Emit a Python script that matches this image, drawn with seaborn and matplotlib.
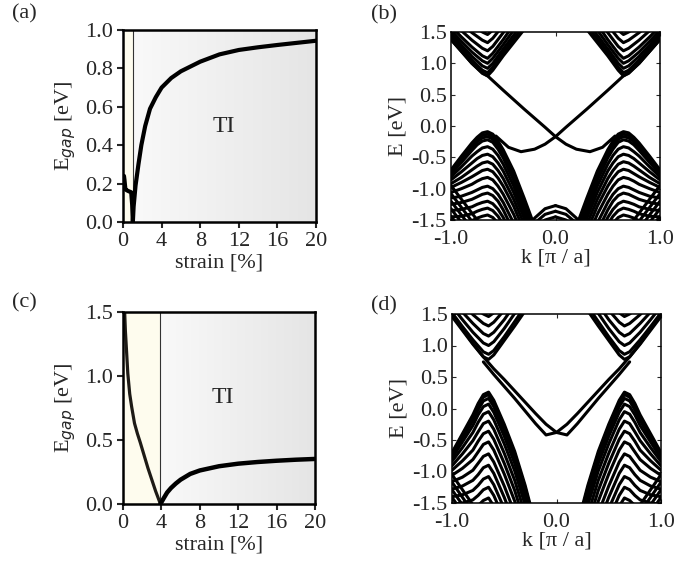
import numpy as np
import pandas as pd
import matplotlib
matplotlib.use("Agg")
import matplotlib.pyplot as plt
from matplotlib.colors import LinearSegmentedColormap
from matplotlib.ticker import FormatStrFormatter
import seaborn as sns

# ---------------- (a) / (c): gap vs strain ----------------
strain_a = [0.0, 0.1, 0.15, 0.25, 0.4, 0.6, 0.85, 0.95, 1.02, 1.1, 1.3, 1.6, 1.9, 2.3, 2.8, 3.4,
            4.0, 5.0, 6.0, 7.0, 8.0, 10.0, 12.0, 14.0, 16.0, 18.0, 20.0]
gap_a = [0.20, 0.24, 0.22, 0.17, 0.165, 0.16, 0.155, 0.09, 0.0, 0.08, 0.19, 0.30, 0.40, 0.50, 0.59, 0.65,
         0.70, 0.75, 0.785, 0.81, 0.835, 0.873, 0.896, 0.91, 0.922, 0.933, 0.944]
boundary_a = 1.0

strain_c_left = [0.12, 0.25, 0.35, 0.5, 0.7, 0.9, 1.2, 1.5, 1.8, 2.2, 2.6, 3.0, 3.4, 3.7, 3.9]
gap_c_left = [1.6, 1.35, 1.22, 1.02, 0.86, 0.76, 0.63, 0.55, 0.48, 0.38, 0.28, 0.19, 0.10, 0.04, 0.0]
strain_c_right = [3.9, 4.2, 4.6, 5.0, 5.5, 6.0, 7.0, 8.0, 10.0, 12.0, 14.0, 16.0, 18.0, 20.0]
gap_c_right = [0.0, 0.04, 0.09, 0.125, 0.16, 0.19, 0.235, 0.262, 0.295, 0.315, 0.328, 0.338, 0.346, 0.352]
boundary_c = 3.9

# ---------------- (b) / (d): ribbon bands (k >= 0 half, mirrored in k) ----------------
k_val = [0.0, 0.1, 0.2, 0.3, 0.4, 0.5, 0.55, 0.6, 0.65, 0.7, 0.75, 0.8, 0.9, 1.0]
k_cond = [0.3, 0.4, 0.5, 0.6, 0.65, 0.7, 0.8, 0.9, 1.0]
k_fold = [0.7, 0.8, 0.9, 1.0]
k_bump = [0.0, 0.1, 0.2, 0.3]

val_b = [
    [-3.0, -2.3, -1.6, -1.15, -0.72, -0.38, -0.24, -0.13, -0.09, -0.11, -0.18, -0.27, -0.48, -0.70],
    [-3.0, -2.35, -1.65, -1.2, -0.77, -0.42, -0.28, -0.17, -0.13, -0.15, -0.21, -0.30, -0.51, -0.72],
    [-3.0, -2.4, -1.7, -1.25, -0.82, -0.46, -0.32, -0.21, -0.17, -0.19, -0.25, -0.34, -0.54, -0.74],
    [-3.1, -2.45, -1.75, -1.3, -0.87, -0.51, -0.37, -0.26, -0.22, -0.24, -0.30, -0.39, -0.58, -0.77],
    [-3.1, -2.5, -1.82, -1.38, -0.96, -0.61, -0.47, -0.37, -0.33, -0.35, -0.41, -0.48, -0.65, -0.81],
    [-3.2, -2.6, -1.9, -1.47, -1.06, -0.72, -0.59, -0.49, -0.45, -0.47, -0.52, -0.59, -0.73, -0.86],
    [-3.2, -2.7, -2.0, -1.57, -1.17, -0.84, -0.71, -0.61, -0.57, -0.59, -0.64, -0.70, -0.82, -0.92],
    [-3.3, -2.8, -2.1, -1.68, -1.28, -0.96, -0.83, -0.73, -0.69, -0.71, -0.76, -0.81, -0.90, -0.98],
    [-3.4, -2.9, -2.2, -1.8, -1.41, -1.09, -0.96, -0.86, -0.82, -0.84, -0.88, -0.93, -1.0, -1.06],
    [-3.5, -3.0, -2.4, -1.95, -1.55, -1.22, -1.09, -1.0, -0.96, -0.98, -1.02, -1.06, -1.12, -1.15],
    [-3.5, -3.1, -2.5, -2.1, -1.68, -1.34, -1.2, -1.11, -1.07, -1.09, -1.13, -1.17, -1.22, -1.25],
    [-3.6, -3.2, -2.6, -2.2, -1.8, -1.46, -1.33, -1.24, -1.2, -1.22, -1.25, -1.29, -1.33, -1.35],
    [-3.6, -3.3, -2.7, -2.3, -1.92, -1.57, -1.44, -1.35, -1.31, -1.33, -1.36, -1.40, -1.44, -1.45],
    [-3.7, -3.4, -2.8, -2.4, -2.05, -1.68, -1.55, -1.46, -1.42, -1.44, -1.47, -1.51, -1.55, -1.56],
]
cond_b = [
    [1.54, 1.33, 1.12, 0.89, 0.80, 0.84, 1.00, 1.19, 1.38],
    [1.60, 1.39, 1.17, 0.94, 0.85, 0.89, 1.05, 1.24, 1.43],
    [1.67, 1.45, 1.23, 1.00, 0.92, 0.96, 1.11, 1.29, 1.48],
    [1.76, 1.53, 1.30, 1.08, 1.00, 1.04, 1.18, 1.35, 1.53],
    [1.85, 1.62, 1.38, 1.16, 1.08, 1.12, 1.26, 1.42, 1.59],
    [1.97, 1.73, 1.49, 1.27, 1.20, 1.24, 1.37, 1.52, 1.68],
    [2.10, 1.86, 1.61, 1.40, 1.33, 1.37, 1.49, 1.63, 1.78],
    [2.23, 1.99, 1.74, 1.53, 1.46, 1.50, 1.62, 1.75, 1.90],
]
fold_b = [
    [-1.61, -1.39, -1.17, -0.95],
    [-1.74, -1.52, -1.30, -1.08],
    [-1.86, -1.64, -1.42, -1.20],
    [-1.98, -1.76, -1.54, -1.32],
    [-2.10, -1.88, -1.66, -1.44],
]
bump_b = [
    [-1.27, -1.32, -1.47, -1.70],
    [-1.36, -1.41, -1.55, -1.78],
    [-1.45, -1.50, -1.63, -1.86],
]
k_edge_b = [-1.0, -0.9, -0.8, -0.7, -0.65, -0.5, -0.3, -0.1, 0.0, 0.1, 0.2, 0.33, 0.45, 0.57]
edge_b = [1.38, 1.19, 1.0, 0.85, 0.80, 0.57, 0.27, -0.02, -0.17, -0.29, -0.37, -0.41, -0.34, -0.16]

val_d = [
    [-3.0, -2.5, -1.85, -1.22, -0.68, -0.25, -0.06, 0.13, 0.26, 0.22, 0.08, -0.10, -0.40, -0.70],
    [-3.04, -2.54, -1.89, -1.26, -0.72, -0.29, -0.10, 0.09, 0.22, 0.18, 0.04, -0.14, -0.43, -0.72],
    [-3.1, -2.6, -1.95, -1.32, -0.78, -0.35, -0.16, 0.03, 0.16, 0.12, -0.02, -0.19, -0.47, -0.75],
    [-3.2, -2.7, -2.04, -1.41, -0.87, -0.44, -0.25, -0.06, 0.07, 0.03, -0.10, -0.27, -0.53, -0.79],
    [-3.3, -2.8, -2.16, -1.53, -0.99, -0.56, -0.37, -0.18, -0.05, -0.09, -0.22, -0.38, -0.62, -0.84],
    [-3.5, -3.0, -2.31, -1.68, -1.14, -0.71, -0.52, -0.33, -0.20, -0.24, -0.37, -0.51, -0.72, -0.91],
    [-3.6, -3.1, -2.47, -1.84, -1.30, -0.87, -0.68, -0.49, -0.36, -0.40, -0.52, -0.66, -0.83, -0.98],
    [-3.8, -3.3, -2.64, -2.01, -1.47, -1.04, -0.85, -0.66, -0.53, -0.57, -0.69, -0.81, -0.95, -1.06],
    [-4.0, -3.5, -2.83, -2.2, -1.66, -1.23, -1.04, -0.85, -0.72, -0.76, -0.87, -0.98, -1.09, -1.16],
    [-4.2, -3.7, -3.01, -2.38, -1.84, -1.41, -1.22, -1.03, -0.90, -0.94, -1.05, -1.14, -1.23, -1.28],
    [-4.3, -3.8, -3.19, -2.56, -2.02, -1.59, -1.40, -1.21, -1.08, -1.12, -1.22, -1.30, -1.37, -1.40],
    [-4.5, -4.0, -3.36, -2.73, -2.19, -1.76, -1.57, -1.38, -1.25, -1.29, -1.38, -1.45, -1.50, -1.52],
    [-4.7, -4.2, -3.53, -2.9, -2.36, -1.93, -1.74, -1.55, -1.42, -1.46, -1.54, -1.60, -1.64, -1.66],
]
cond_d = [
    [1.55, 1.31, 1.08, 0.85, 0.78, 0.82, 1.02, 1.24, 1.46],
    [1.62, 1.38, 1.14, 0.92, 0.86, 0.90, 1.09, 1.30, 1.52],
    [1.76, 1.51, 1.27, 1.06, 1.00, 1.04, 1.21, 1.41, 1.62],
    [1.90, 1.65, 1.41, 1.21, 1.15, 1.19, 1.35, 1.53, 1.73],
    [2.05, 1.80, 1.56, 1.37, 1.31, 1.35, 1.49, 1.66, 1.84],
    [2.20, 1.95, 1.71, 1.52, 1.46, 1.50, 1.63, 1.79, 1.96],
]
fold_d = [
    [-1.77, -1.53, -1.29, -1.05],
    [-1.89, -1.65, -1.41, -1.17],
    [-2.01, -1.77, -1.53, -1.29],
    [-2.13, -1.89, -1.65, -1.41],
]
k_edge_d = [-1.0, -0.9, -0.8, -0.7, -0.6, -0.5, -0.4, -0.3, -0.2, -0.1, 0.0, 0.1, 0.2, 0.3, 0.4, 0.5, 0.6, 0.7]
edge_d = [1.50, 1.26, 1.03, 0.82, 0.63, 0.46, 0.28, 0.10, -0.08, -0.25, -0.38, -0.42, -0.24, -0.04, 0.16, 0.35, 0.54, 0.74]


def band_frame(families):
    # every band is drawn at +k and at -k
    parts = []
    uid = 0
    for k, bands in families:
        for e in bands:
            for sign in (1, -1):
                parts.append(pd.DataFrame({"k": sign * np.asarray(k, float),
                                           "E": np.asarray(e, float), "band": uid}))
                uid += 1
    return pd.concat(parts, ignore_index=True)


sns.set_style("ticks")
plt.rcParams["font.family"] = ["Liberation Serif", "DejaVu Serif"]
plt.rcParams["font.size"] = 16
plt.rcParams["axes.unicode_minus"] = False
plt.rcParams["mathtext.fontset"] = "dejavusans"

fig = plt.figure(figsize=(6.89, 5.75), dpi=100)
W, H = 689, 575


def axes_px(left, top, right, bottom):
    return fig.add_axes([left / W, 1 - bottom / H, (right - left) / W, (bottom - top) / H])


ax_a = axes_px(123, 30, 316, 222)
ax_b = axes_px(451, 32, 660, 220)
ax_c = axes_px(123, 312, 315, 504)
ax_d = axes_px(452, 314, 661, 503)

bg_cmap = LinearSegmentedColormap.from_list("bg", ["#f9f9f9", "#e5e5e5"])


def phase_background(ax, xb, ymax):
    ax.axvspan(0, xb, color="#fefcee", lw=0, zorder=0)
    ax.imshow(np.linspace(0, 1, 256)[None, :], extent=[xb, 20, 0, ymax], cmap=bg_cmap,
              aspect="auto", zorder=0)
    ax.axvline(xb, color="#333333", lw=0.8, zorder=1)


def style_gap(ax, ymax, yticks, ti_y):
    ax.set_xlim(0, 20)
    ax.set_ylim(0, ymax)
    ax.set_xticks([0, 4, 8, 12, 16, 20])
    ax.set_yticks(yticks)
    ax.yaxis.set_major_formatter(FormatStrFormatter("%.1f"))
    ax.set_xlabel("strain [%]", labelpad=2)
    ax.set_ylabel("E$_{gap}$ [eV]", labelpad=5)
    ax.tick_params(direction="out", length=4, width=1.5, pad=3, labelsize=16)
    for s in ax.spines.values():
        s.set_linewidth(1.8)
        s.set_color("black")
        s.set_visible(True)
    ax.text(10.4, ti_y, "TI", ha="center", va="center", fontsize=17)


# (a)
phase_background(ax_a, boundary_a, 1.0)
sns.lineplot(x=strain_a, y=gap_a, ax=ax_a, color="black", linewidth=3, sort=False, estimator=None)
style_gap(ax_a, 1.0, [0, 0.2, 0.4, 0.6, 0.8, 1.0], 0.5)

# (c)
phase_background(ax_c, boundary_c, 1.5)
sns.lineplot(x=strain_c_left, y=gap_c_left, ax=ax_c, color="#1e1b16", linewidth=2.3, sort=False, estimator=None)
sns.lineplot(x=strain_c_right, y=gap_c_right, ax=ax_c, color="black", linewidth=3.2, sort=False, estimator=None)
style_gap(ax_c, 1.5, [0, 0.5, 1.0, 1.5], 0.83)


def style_band(ax):
    ax.set_xlim(-1, 1)
    ax.set_ylim(-1.5, 1.5)
    ax.set_xticks([-1, 0, 1])
    ax.set_yticks([-1.5, -1.0, -0.5, 0.0, 0.5, 1.0, 1.5])
    ax.xaxis.set_major_formatter(FormatStrFormatter("%.1f"))
    ax.yaxis.set_major_formatter(FormatStrFormatter("%.1f"))
    ax.set_xlabel("k [π / a]", labelpad=0)
    ax.set_ylabel("E [eV]", labelpad=3)
    ax.tick_params(direction="in", length=3, width=0.8, pad=3, labelsize=16,
                   top=True, right=True)
    ax.tick_params(axis="x", pad=7)
    for s in ax.spines.values():
        s.set_linewidth(1.1)
        s.set_color("black")
        s.set_visible(True)


df_b = band_frame([(k_val, val_b), (k_cond, cond_b), (k_fold, fold_b), (k_bump, bump_b),
                   (k_edge_b, [edge_b])])
sns.lineplot(data=df_b, x="k", y="E", units="band", estimator=None, sort=False,
             color="black", linewidth=2.2, ax=ax_b, legend=False)
style_band(ax_b)

df_d = band_frame([(k_val, val_d), (k_cond, cond_d), (k_fold, fold_d), (k_edge_d, [edge_d])])
sns.lineplot(data=df_d, x="k", y="E", units="band", estimator=None, sort=False,
             color="black", linewidth=2.2, ax=ax_d, legend=False)
style_band(ax_d)

for lab, x, y in [("(a)", 12, 4), ("(b)", 371, 5), ("(c)", 12, 293), ("(d)", 371, 296)]:
    fig.text(x / W, 1 - y / H, lab, ha="left", va="top", fontsize=16)

fig.savefig("out.png", dpi=100)
